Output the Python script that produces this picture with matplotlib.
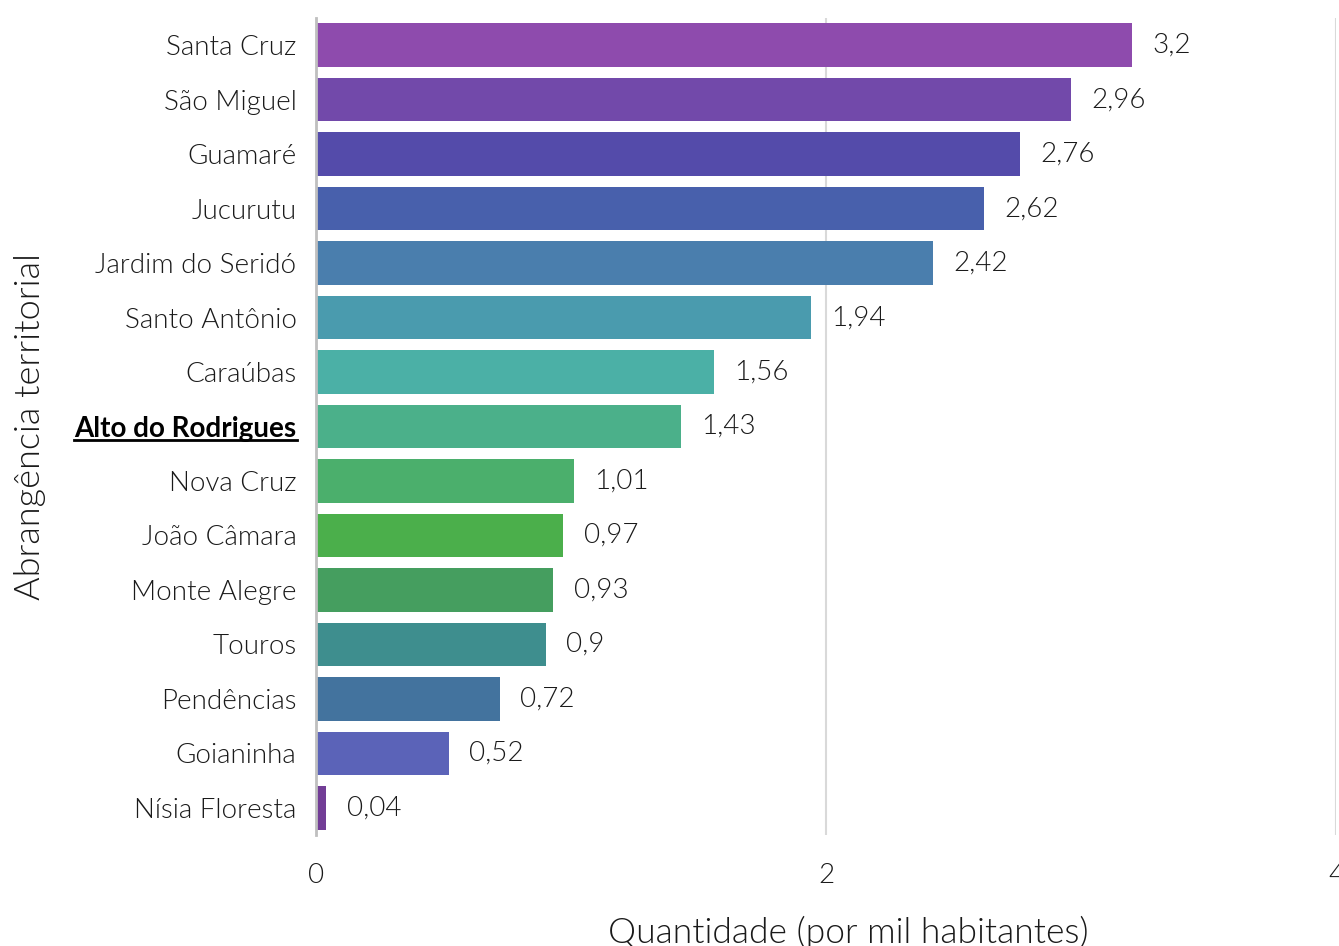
import matplotlib.pyplot as plt

# data
municipios = ["Santa Cruz", "São Miguel", "Guamaré", "Jucurutu", "Jardim do Seridó",
              "Santo Antônio", "Caraúbas", "Alto do Rodrigues", "Nova Cruz", "João Câmara",
              "Monte Alegre", "Touros", "Pendências", "Goianinha", "Nísia Floresta"]
valores = [3.2, 2.96, 2.76, 2.62, 2.42, 1.94, 1.56, 1.43, 1.01, 0.97, 0.93, 0.9, 0.72, 0.52, 0.04]
cores = ["#8E4BAD", "#7249AA", "#544BAA", "#4860AC", "#4A7EAD", "#4A9BAE", "#4BB0A6",
         "#4BB08A", "#4BAF6C", "#4BAF4B", "#459E5F", "#3E8E8E", "#43739E", "#5B63B8", "#723D96"]
destaque = "Alto do Rodrigues"
xticks = [0, 2, 4]

plt.rcParams['font.family'] = ['Lato', 'DejaVu Sans']
texto = "#1a1a1a"
peso = 300

fig = plt.figure(figsize=(13.39, 9.46), dpi=100)
ax = fig.add_axes([316 / 1339, 1 - 835 / 946, 1020 / 1339, 817 / 946])

pos = list(range(len(municipios)))
ax.barh(pos, valores, height=0.8, color=cores, zorder=3)

for y, v in zip(pos, valores):
    ax.text(v + 0.08, y, f"{v:g}".replace(".", ","), va="center", ha="left",
            fontsize=20, fontweight=peso, color=texto)

ax.set_xlim(0, 4)
ax.set_ylim(len(municipios) - 0.5, -0.5)
ax.set_xticks(xticks)
ax.set_xticklabels([str(t) for t in xticks], fontsize=20, fontweight=peso, color=texto)
ax.set_yticks(pos)
ax.set_yticklabels(municipios, fontsize=20, fontweight=peso, color=texto)
for lab in ax.get_yticklabels():
    if lab.get_text() == destaque:
        lab.set_fontweight("bold")
        lab.set_color("black")
ax.tick_params(axis="both", length=0)
ax.tick_params(axis="x", pad=20)
ax.tick_params(axis="y", pad=14)

ax.grid(axis="x", color="#d9d9d9", linewidth=1.5, zorder=0)
for s in ["top", "right", "bottom"]:
    ax.spines[s].set_visible(False)
ax.spines["left"].set_color("#bfbfbf")
ax.spines["left"].set_linewidth(2)
ax.spines["left"].set_zorder(4)

ax.set_xlabel("Quantidade (por mil habitantes)", fontsize=25.5, fontweight=peso, color=texto)
ax.xaxis.set_label_coords(532 / 1020, -81 / 817)
ax.set_ylabel("Abrangência territorial", fontsize=26, fontweight=peso, color=texto)
ax.yaxis.set_label_coords(-270 / 1020, 0.5)

fig.canvas.draw()
# underline the highlighted category label
for lab in ax.get_yticklabels():
    if lab.get_text() == destaque:
        bb = lab.get_window_extent().transformed(fig.transFigure.inverted())
        fig.add_artist(plt.Line2D([bb.x0, bb.x1], [bb.y0 + 0.002, bb.y0 + 0.002],
                                  transform=fig.transFigure, color="black", linewidth=2))

fig.savefig("out.png", dpi=100)
